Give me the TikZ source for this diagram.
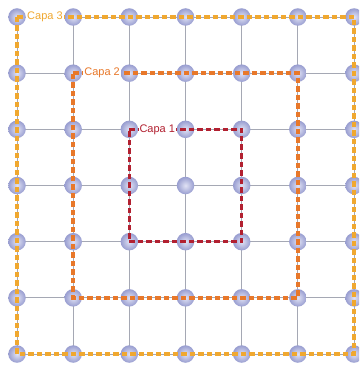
\documentclass[tikz,border=0pt]{standalone}
\usepackage{fontspec}
\setmainfont{Liberation Sans}
\definecolor{gridgray}{RGB}{165,168,180}
\definecolor{capaA}{RGB}{178,32,48}
\definecolor{capaB}{RGB}{232,120,42}
\definecolor{capaC}{RGB}{240,168,48}
\definecolor{ballin}{RGB}{225,227,245}
\definecolor{ballout}{RGB}{152,157,208}
\tikzset{
  ballnode/.style={circle, minimum size=17.5pt, inner sep=0pt, shading=radial, inner color=ballin, outer color=ballout},
  gridline/.style={draw=gridgray, line width=0.9pt},
  layerline/.style={line width=3.6pt, dash pattern=on 5.5pt off 3pt},
  layerlabel/.style={anchor=west, fill=white, inner sep=1pt, font=\fontsize{11pt}{13pt}\selectfont}
}
\begin{document}
\begin{tikzpicture}[x=1pt,y=-1pt]
\useasboundingbox (0,0) rectangle (359,366);
\clip (0,0) rectangle (359,366);
% node positions
\foreach \i in {0,...,6}{
  \foreach \j in {0,...,6}{
    \coordinate (p-\i-\j) at ({17+56.17*\i},{17+56.17*\j});
  }
}
% grid lines
\foreach \i in {0,...,6}{
  \draw[gridline] (p-\i-0) -- (p-\i-6);
  \draw[gridline] (p-0-\i) -- (p-6-\i);
}
% balls
\foreach \i in {0,...,6}{
  \foreach \j in {0,...,6}{
    \node[ballnode] (n-\i-\j) at (p-\i-\j) {};
  }
}
% layers
\draw[layerline, draw=capaC] (n-0-0.center) -- (n-6-0.center) -- (n-6-6.center) -- (n-0-6.center) -- cycle;
\draw[layerline, draw=capaB] (n-1-1.center) -- (n-5-1.center) -- (n-5-5.center) -- (n-1-5.center) -- cycle;
\draw[layerline, draw=capaA] (n-2-2.center) -- (n-4-2.center) -- (n-4-4.center) -- (n-2-4.center) -- cycle;
% labels
\node[layerlabel, text=capaC] (l3) at ([xshift=9pt]n-0-0.center) {Capa 3};
\node[layerlabel, text=capaB] (l2) at ([xshift=10pt]n-1-1.center) {Capa 2};
\node[layerlabel, text=capaA] (l1) at ([xshift=9pt]n-2-2.center) {Capa 1};
\end{tikzpicture}
\end{document}
